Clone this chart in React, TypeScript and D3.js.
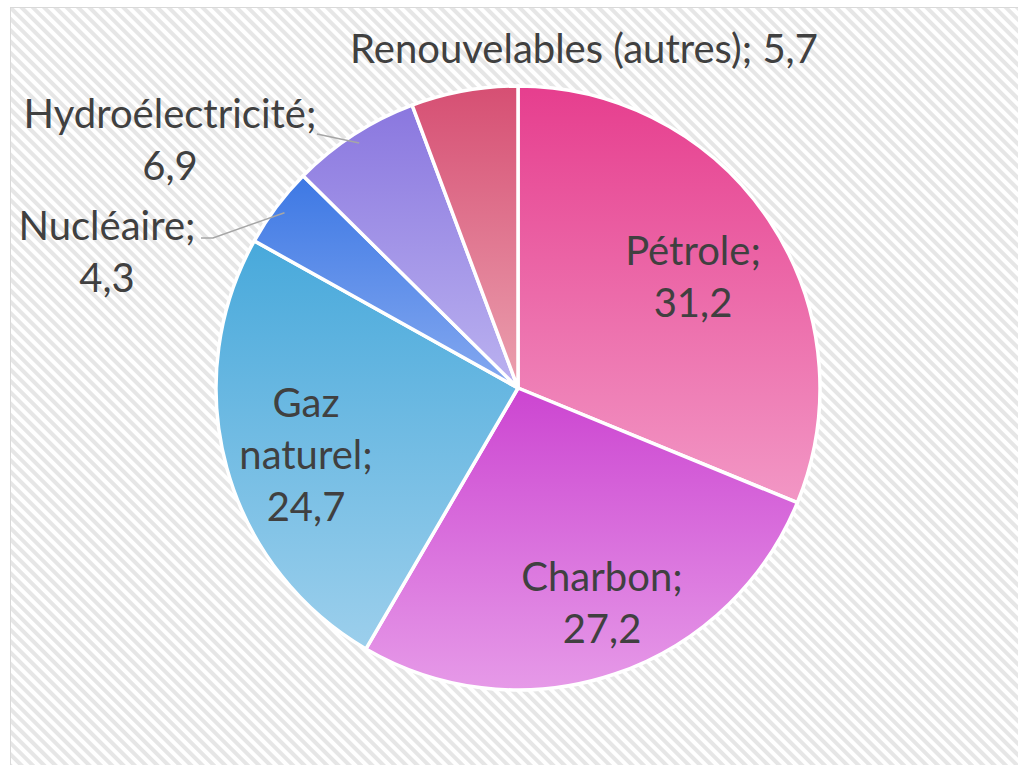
import React, { useRef, useEffect } from 'react';
import * as d3 from 'd3';

const categories = ['Pétrole', 'Charbon', 'Gaz naturel', 'Nucléaire', 'Hydroélectricité', 'Renouvelables (autres)'];
const values = [31.2, 27.2, 24.7, 4.3, 6.9, 5.7];
const topColors = ['#E63E8E', '#CC45D1', '#48A9DB', '#3D78E4', '#8A77DF', '#D64F73'];
const bottomColors = ['#F297C5', '#E69AE8', '#9CCFEC', '#85A9F0', '#BBB2F0', '#EBA0AF'];
const labelLines = [
  ['Pétrole;', '31,2'],
  ['Charbon;', '27,2'],
  ['Gaz', 'naturel;', '24,7'],
  ['Nucléaire;', '4,3'],
  ['Hydroélectricité;', '6,9'],
  ['Renouvelables (autres); 5,7'],
];
// label anchor (center x, first baseline y), relative to svg
const labelPos: [number, number][] = [
  [693, 265],
  [602, 591],
  [306, 417],
  [107, 240],
  [170, 128],
  [584, 63],
];

const App: React.FC = () => {
  const svgRef = useRef<SVGSVGElement | null>(null);

  useEffect(() => {
    const W = 1018;
    const H = 765;
    const cx = 518;
    const cy = 388;
    const radius = 302;
    const lineH = 52;
    const font = 'Lato, "Open Sans", sans-serif';
    const fontSize = 40;

    const svg = d3.select(svgRef.current).attr('width', W).attr('height', H);
    svg.selectAll('*').remove();

    const defs = svg.append('defs');
    const pat = defs
      .append('pattern')
      .attr('id', 'hatch')
      .attr('patternUnits', 'userSpaceOnUse')
      .attr('width', 8)
      .attr('height', 8)
      .attr('patternTransform', 'rotate(-45)');
    pat.append('rect').attr('width', 8).attr('height', 8).attr('fill', '#fff');
    pat.append('rect').attr('width', 4).attr('height', 8).attr('fill', '#e6e6e6');

    categories.forEach((c, i) => {
      const g = defs
        .append('linearGradient')
        .attr('id', `grad${i}`)
        .attr('x1', 0)
        .attr('y1', 0)
        .attr('x2', 0)
        .attr('y2', 1);
      g.append('stop').attr('offset', '0%').attr('stop-color', topColors[i]);
      g.append('stop').attr('offset', '100%').attr('stop-color', bottomColors[i]);
    });

    // background frame
    svg
      .append('rect')
      .attr('x', 10.5)
      .attr('y', 7.5)
      .attr('width', W)
      .attr('height', H)
      .attr('fill', 'url(#hatch)')
      .attr('stroke', '#d9d9d9')
      .attr('stroke-width', 1);

    const pie = d3.pie<number>().sort(null).value((d) => d);
    const arcs = pie(values);
    const arc = d3.arc<d3.PieArcDatum<number>>().innerRadius(0).outerRadius(radius);

    const g = svg.append('g').attr('transform', `translate(${cx},${cy})`);
    g.selectAll('path')
      .data(arcs)
      .enter()
      .append('path')
      .attr('d', arc)
      .attr('fill', (d, i) => `url(#grad${i})`)
      .attr('stroke', '#fff')
      .attr('stroke-width', 3.5)
      .attr('stroke-linejoin', 'round');

    // leader lines for the small outside labels
    const leaders: { idx: number; start: [number, number]; elbow: [number, number] }[] = [
      { idx: 3, start: [201, 238], elbow: [213, 238] },
      { idx: 4, start: [317, 134], elbow: [317, 134] },
    ];
    leaders.forEach((l) => {
      const a = arcs[l.idx];
      const mid = (a.startAngle + a.endAngle) / 2;
      const r = radius - 10;
      const ex = cx + Math.sin(mid) * r;
      const ey = cy - Math.cos(mid) * r;
      svg
        .append('polyline')
        .attr('points', `${l.start.join(',')} ${l.elbow.join(',')} ${ex},${ey}`)
        .attr('fill', 'none')
        .attr('stroke', '#a6a6a6')
        .attr('stroke-width', 1.5);
    });

    labelLines.forEach((lines, i) => {
      const t = svg
        .append('text')
        .attr('text-anchor', 'middle')
        .attr('font-family', font)
        .attr('font-size', fontSize)
        .attr('fill', '#404040');
      lines.forEach((ln, j) => {
        t.append('tspan')
          .attr('x', labelPos[i][0])
          .attr('y', labelPos[i][1] + j * lineH)
          .text(ln);
      });
    });
  }, []);

  return <svg ref={svgRef} style={{ position: 'absolute', left: 0, top: 0 }}></svg>;
};

export default App;
